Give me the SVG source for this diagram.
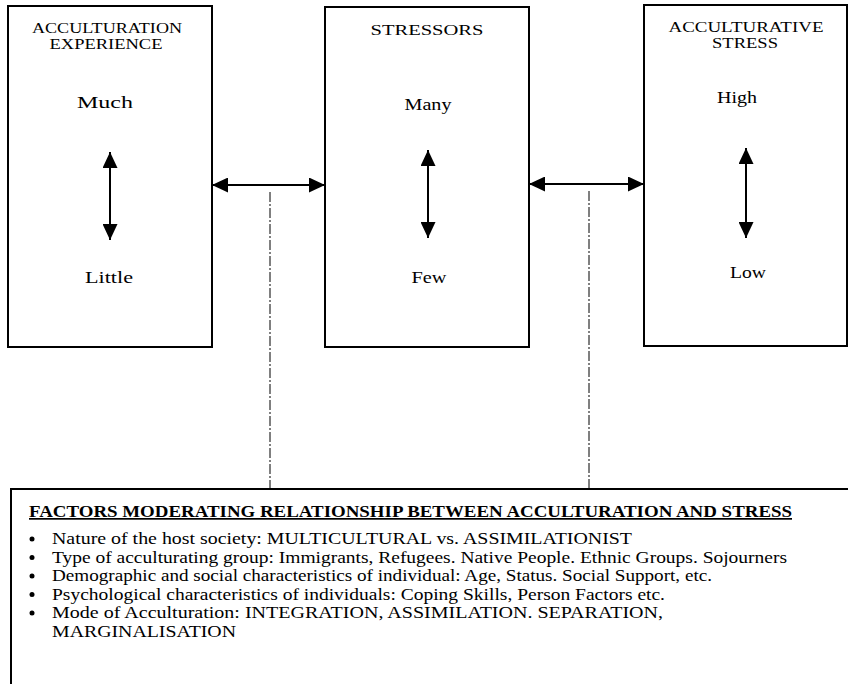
<svg xmlns="http://www.w3.org/2000/svg" width="848" height="684" viewBox="0 0 848 684">
<defs>
<marker id="ah" viewBox="0 0 16 15" refX="16" refY="7.5" markerWidth="16" markerHeight="15" markerUnits="userSpaceOnUse" orient="auto-start-reverse">
<path d="M0,0 L16,7.5 L0,15 z" fill="#000"/>
</marker>
<style>
.box{fill:#fff;stroke:#000;stroke-width:2}
.t{font-family:"Liberation Serif","Times New Roman",serif;fill:#000;text-anchor:middle}
.h{font-size:15px}
.v{font-size:17px}
.arr{stroke:#000;stroke-width:2;fill:none;marker-start:url(#ah);marker-end:url(#ah)}
.dash{stroke:#000;stroke-width:1;fill:none;stroke-dasharray:10 2 2 2}
.b{font-family:"Liberation Serif","Times New Roman",serif;fill:#000;font-size:17px}
</style>
</defs>
<rect width="848" height="684" fill="#fff"/>
<g id="connectors">
<line class="arr" x1="212" y1="185" x2="325" y2="185"/>
<line class="arr" x1="529" y1="184" x2="644" y2="184"/>
<line class="dash" x1="270" y1="192" x2="270" y2="489"/>
<line class="dash" x1="589" y1="191" x2="589" y2="489"/>
</g>
<g id="acculturation-experience">
<rect class="box" x="8" y="6" width="204" height="341"/>
<text class="t h" x="107" y="33" textLength="150" lengthAdjust="spacingAndGlyphs">ACCULTURATION</text>
<text class="t h" x="106" y="49" textLength="113" lengthAdjust="spacingAndGlyphs">EXPERIENCE</text>
<text class="t v" x="105" y="108" textLength="56" lengthAdjust="spacingAndGlyphs">Much</text>
<line class="arr" x1="110" y1="152" x2="110" y2="240"/>
<text class="t v" x="109" y="283" textLength="48" lengthAdjust="spacingAndGlyphs">Little</text>
</g>
<g id="stressors">
<rect class="box" x="325" y="7" width="204" height="340"/>
<text class="t h" x="427" y="35" textLength="113" lengthAdjust="spacingAndGlyphs">STRESSORS</text>
<text class="t v" x="428" y="110" textLength="47" lengthAdjust="spacingAndGlyphs">Many</text>
<line class="arr" x1="428" y1="150" x2="428" y2="238"/>
<text class="t v" x="429" y="283" textLength="35" lengthAdjust="spacingAndGlyphs">Few</text>
</g>
<g id="acculturative-stress">
<rect class="box" x="644" y="5" width="203" height="341"/>
<text class="t h" x="746" y="32" textLength="155" lengthAdjust="spacingAndGlyphs">ACCULTURATIVE</text>
<text class="t h" x="745" y="48" textLength="66" lengthAdjust="spacingAndGlyphs">STRESS</text>
<text class="t v" x="737" y="103" textLength="40" lengthAdjust="spacingAndGlyphs">High</text>
<line class="arr" x1="746" y1="148" x2="746" y2="238"/>
<text class="t v" x="748" y="278" textLength="36" lengthAdjust="spacingAndGlyphs">Low</text>
</g>
<g id="moderating-factors">
<rect class="box" x="11" y="489" width="850" height="210"/>
<text class="b" x="29" y="517" font-weight="bold" text-decoration="underline" textLength="763" lengthAdjust="spacingAndGlyphs">FACTORS MODERATING RELATIONSHIP BETWEEN ACCULTURATION AND STRESS</text>
<circle cx="32" cy="539" r="2.5"/>
<circle cx="32" cy="557.5" r="2.5"/>
<circle cx="32" cy="576" r="2.5"/>
<circle cx="32" cy="594.5" r="2.5"/>
<circle cx="32" cy="613" r="2.5"/>
<text class="b" x="52" y="544" textLength="580" lengthAdjust="spacingAndGlyphs">Nature of the host society: MULTICULTURAL vs. ASSIMILATIONIST</text>
<text class="b" x="52" y="562.5" textLength="735" lengthAdjust="spacingAndGlyphs">Type of acculturating group: Immigrants, Refugees. Native People. Ethnic Groups. Sojourners</text>
<text class="b" x="52" y="581" textLength="660" lengthAdjust="spacingAndGlyphs">Demographic and social characteristics of individual: Age, Status. Social Support, etc.</text>
<text class="b" x="52" y="599.5" textLength="613" lengthAdjust="spacingAndGlyphs">Psychological  characteristics of individuals: Coping Skills, Person Factors etc.</text>
<text class="b" x="52" y="618" textLength="611" lengthAdjust="spacingAndGlyphs">Mode of Acculturation: INTEGRATION, ASSIMILATION. SEPARATION,</text>
<text class="b" x="52" y="636.5" textLength="184" lengthAdjust="spacingAndGlyphs">MARGINALISATION</text>
</g>
</svg>
